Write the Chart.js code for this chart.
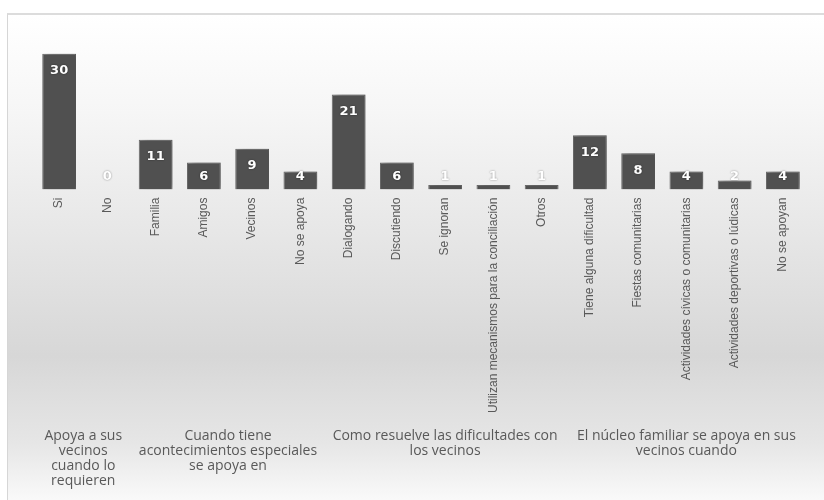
<!DOCTYPE html>
<html>
<head>
<meta charset="utf-8">
<script src="https://cdn.jsdelivr.net/npm/chart.js@4/dist/chart.umd.min.js"></script>
<style>
  html, body { margin: 0; padding: 0; background: #ffffff; }
  #frame {
    position: absolute; left: 7px; top: 13px; width: 817px; height: 487px;
    border-top: 2px solid #dcdcdc; border-left: 1px solid #d6d6d6;
    background: linear-gradient(to bottom, #ffffff 0%, #f6f6f6 20%, #ebebeb 38%, #d7d7d7 70%, #e6e6e6 88%, #fafafa 100%);
  }
  #c { position: absolute; left: 0; top: 0; }
</style>
</head>
<body>
<div id="frame"></div>
<canvas id="c" width="824" height="500"></canvas>
<script>
const categories = ['Si', 'No', 'Familia', 'Amigos', 'Vecinos', 'No se apoya', 'Dialogando', 'Discutiendo',
  'Se ignoran', 'Utilizan mecanismos para la conciliación', 'Otros', 'Tiene alguna dificultad',
  'Fiestas comunitarias', 'Actividades cívicas o comunitarias', 'Actividades deportivas o lúdicas', 'No se apoyan'];
const values = [30, 0, 11, 6, 9, 4, 21, 6, 1, 1, 1, 12, 8, 4, 2, 4];
const groupNames = [
  ['Apoya a sus', 'vecinos', 'cuando lo', 'requieren'],
  ['Cuando tiene', 'acontecimientos especiales', 'se apoya en'],
  ['Como resuelve las dificultades con', 'los vecinos'],
  ['El núcleo familiar se apoya en sus', 'vecinos cuando']
];
const groupSizes = [2, 4, 5, 5];
const yMax = 39;

// group axis: half-category slots (0 .. 2*n), each group label sits at the slot of its centre
const groupSlots = new Array(categories.length * 2 + 1).fill('');
let start = 0;
groupSizes.forEach((s, g) => { groupSlots[2 * start + s] = groupNames[g]; start += s; });

const barDeco = {
  id: 'barDeco',
  beforeDatasetsDraw(chart) {
    const ctx = chart.ctx;
    ctx.save();
    ctx.shadowColor = 'rgba(0,0,0,0.28)';
    ctx.shadowBlur = 6;
    ctx.shadowOffsetX = 4;
    ctx.shadowOffsetY = -1;
  },
  afterDatasetsDraw(chart) {
    const ctx = chart.ctx;
    ctx.restore();
    const meta = chart.getDatasetMeta(0);
    ctx.save();
    ctx.font = 'bold 13px "DejaVu Sans"';
    ctx.textAlign = 'center';
    ctx.textBaseline = 'middle';
    ctx.fillStyle = '#ffffff';
    ctx.shadowColor = 'rgba(0,0,0,0.45)';
    ctx.shadowBlur = 2;
    meta.data.forEach((bar, i) => {
      const y = Math.min(bar.y + 17, bar.base - 13);
      ctx.fillText(String(values[i]), bar.x, y);
    });
    ctx.restore();
  }
};

new Chart(document.getElementById('c'), {
  type: 'bar',
  data: {
    labels: categories,
    datasets: [{
      data: values,
      xAxisID: 'x',
      backgroundColor: '#505050',
      borderColor: '#6b6b6b',
      borderWidth: 1,
      barPercentage: 0.7,
      categoryPercentage: 1.0
    }]
  },
  options: {
    responsive: false,
    animation: false,
    events: [],
    layout: { padding: { left: 35, right: 17, top: 13, bottom: 3 } },
    plugins: { legend: { display: false }, tooltip: { enabled: false } },
    scales: {
      y: { display: false, min: 0, max: yMax },
      x: {
        weight: 0,
        position: 'bottom',
        grid: { display: false, drawTicks: false },
        border: { display: false },
        ticks: {
          autoSkip: false, minRotation: 90, maxRotation: 90, padding: 8,
          color: '#595959',
          font: { family: '"Liberation Sans", Arial, sans-serif', size: 12 }
        }
      },
      group: {
        type: 'category',
        labels: groupSlots,
        offset: false,
        weight: 1,
        position: 'bottom',
        grid: { display: false, drawTicks: false },
        border: { display: false },
        ticks: {
          autoSkip: false, minRotation: 0, maxRotation: 0, padding: 8,
          color: '#595959',
          font: { family: '"Open Sans", sans-serif', size: 14, lineHeight: '15px' }
        }
      }
    }
  },
  plugins: [barDeco]
});
</script>
</body>
</html>
